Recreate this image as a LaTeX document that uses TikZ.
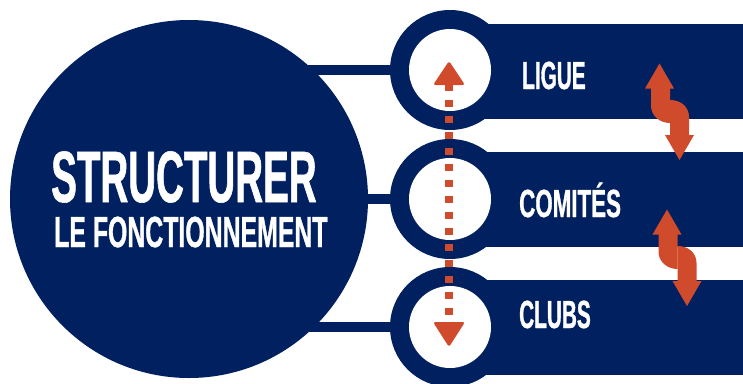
\documentclass[tikz,border=0pt]{standalone}
\usepackage{fontspec}
\newfontfamily\condA[FakeStretch=0.53,FakeBold=0.8,UprightFont={* Bold}]{Liberation Sans}
\newfontfamily\condB[FakeStretch=0.57,FakeBold=0.8,UprightFont={* Bold}]{Liberation Sans}
\usetikzlibrary{backgrounds}
\definecolor{navy}{HTML}{002060}
\definecolor{rust}{HTML}{D04A2C}
\begin{document}
\begin{tikzpicture}[x=1pt,y=-1pt,
  conn/.style={draw=navy, line width=10pt},
  bigc/.style={circle, fill=navy, minimum size=358pt, inner sep=0pt},
  ring/.style={circle, fill=navy, minimum size=120pt, inner sep=0pt},
  hole/.style={circle, fill=white, minimum size=82pt, inner sep=0pt},
  band/.style={rectangle, fill=navy, minimum width=293pt, minimum height=95pt, inner sep=0pt, anchor=west},
  lbl/.style={text=white, anchor=base west, inner sep=0pt},
  lsize/.style={font=\condA\fontsize{39.2}{41}\selectfont},
  lsizeB/.style={font=\condB\fontsize{39.2}{41}\selectfont},
  dashline/.style={draw=rust, line width=7.5pt, dash pattern=on 7pt off 9pt},
  headfill/.style={fill=rust, rounded corners=2.5pt},
  sarrow/.style={fill=rust}
]
\useasboundingbox (0,0) rectangle (743,383);
% bands
\node[band] (b1) at (450,71.5) {};
\node[band] (b2) at (450,199.5) {};
\node[band] (b3) at (450,327) {};
% big circle
\node[bigc] (big) at (189,199) {};
% rings
\node[ring] (r1) at (450,70) {};
\node[ring] (r2) at (450,199) {};
\node[ring] (r3) at (450,327) {};
\node[hole] (w1) at (r1.center) {};
\node[hole] (w2) at (r2.center) {};
\node[hole] (w3) at (r3.center) {};
% connectors
\begin{scope}[on background layer]
  \draw[conn] (big.center |- r1.center) -- (r1.center);
  \draw[conn] (big.center |- r2.center) -- (r2.center);
  \draw[conn] (big.center |- r3.center) -- (r3.center);
\end{scope}
% big text
\node[lbl, font=\condA\fontsize{72.7}{75}\selectfont] (s1) at (51,202) {STRUCTURER};
\node[lbl, font=\condB\fontsize{43.6}{46}\selectfont] (s2) at (54,247) {LE FONCTIONNEMENT};
% labels
\node[lbl, lsize] (t1) at (522,89) {LIGUE};
\node[lbl, lsizeB] (t2) at (519,217) {COMITÉS};
\node[lbl, lsize] (t3) at (519,328) {CLUBS};
% dashed vertical arrow
\coordinate (dtop) at (449,84);
\coordinate (dbot) at (449,323);
\draw[dashline] (dtop) -- (dbot);
\fill[headfill] (449,61) -- (465,85) -- (433,85) -- cycle;
\fill[headfill] (449,347) -- (465,322) -- (433,322) -- cycle;
% S-shaped double arrows
\foreach \dx/\dy in {0/0, 7.5/146}{
\begin{scope}[shift={(\dx,\dy)}]
  \fill[sarrow] (659.5,63.5) -- (674,88.5) -- (670,88.5) -- (670,123)
     .. controls (659,123) and (651,115) .. (651,106) -- (651,88.5) -- (645,88.5) -- cycle;
  \fill[sarrow] (670,100) .. controls (681,100) and (689,107) .. (689,117)
     -- (689,135) -- (694,135) -- (679.5,160) -- (665,135) -- (670,135) -- cycle;
\end{scope}
}
\end{tikzpicture}
\end{document}
